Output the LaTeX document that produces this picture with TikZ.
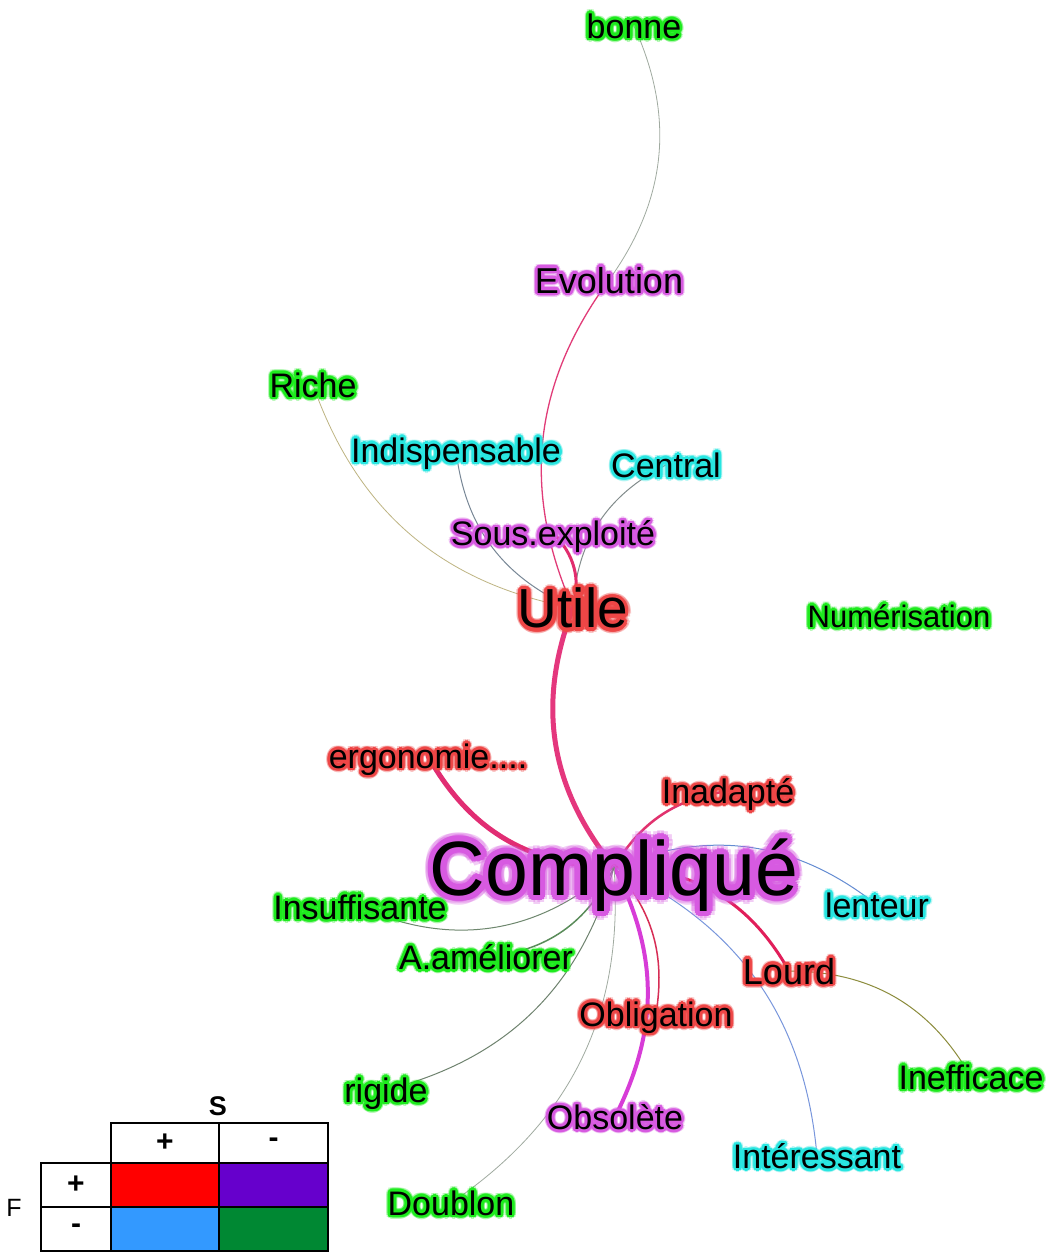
\documentclass[tikz,border=0pt]{standalone}
\usepackage{fontspec}
\setmainfont{Liberation Sans}
\usetikzlibrary{calc}
\pgfdeclarelayer{bg}
\pgfsetlayers{bg,main}
\definecolor{gG}{RGB}{30,235,30}
\definecolor{gC}{RGB}{40,230,225}
\definecolor{gM}{RGB}{215,90,225}
\definecolor{gR}{RGB}{238,70,70}
\definecolor{lRed}{RGB}{255,0,0}
\definecolor{lPur}{RGB}{102,0,204}
\definecolor{lBlu}{RGB}{51,153,255}
\definecolor{lGrn}{RGB}{0,136,51}
\tikzset{
  lbl/.style={inner sep=0pt, text depth=0pt, anchor=center},
  edg/.style={line width=#1, line cap=round},
}
% #1 name, #2 position, #3 size, #4 glow colour, #5 glow radius, #6 text
\newcommand\glowlabel[6]{%
  \foreach \ang in {0,30,...,330}{
    \node[lbl, font=\fontsize{#3}{#3}\selectfont, text=#4, opacity=0.3] at ($(#2)+(\ang:#5*1.6)$) {#6};
  }
  \foreach \ang in {0,22.5,...,337.5}{
    \node[lbl, font=\fontsize{#3}{#3}\selectfont, text=#4] at ($(#2)+(\ang:#5)$) {#6};
  }
  \node[lbl, font=\fontsize{#3}{#3}\selectfont, text=black] (#1) at (#2) {#6};
}
\begin{document}
\begin{tikzpicture}[x=1pt,y=-1pt]
\begin{pgfonlayer}{bg}
\fill[white] (0,0) rectangle (1051,1253);
\end{pgfonlayer}
\useasboundingbox (0,0) rectangle (1051,1253);
% labels
\glowlabel{bonne}{634,26}{34}{gG}{2.5}{bonne}
\glowlabel{evol}{609,280}{36}{gM}{2.5}{Evolution}
\glowlabel{riche}{313,385}{34}{gG}{2.5}{Riche}
\glowlabel{indisp}{456,450}{34}{gC}{2.5}{Indispensable}
\glowlabel{central}{666,465}{34}{gC}{2.5}{Central}
\glowlabel{sous}{553,533}{34}{gM}{2.5}{Sous.exploité}
\glowlabel{utile}{573,608}{55}{gR}{3.5}{Utile}
\glowlabel{numer}{899,616}{31}{gG}{2.5}{Numérisation}
\glowlabel{ergo}{428,756}{34}{gR}{2.5}{ergonomie....}
\glowlabel{inad}{728,791}{34}{gR}{2.5}{Inadapté}
\glowlabel{compl}{614,867}{77}{gM}{5.5}{Compliqué}
\glowlabel{lenteur}{877,905}{34}{gC}{2.5}{lenteur}
\glowlabel{insuff}{360,907}{34}{gG}{2.5}{Insuffisante}
\glowlabel{amel}{486,957}{34}{gG}{2.5}{A.améliorer}
\glowlabel{lourd}{789,971}{36}{gR}{2.5}{Lourd}
\glowlabel{oblig}{656,1014}{34}{gR}{2.5}{Obligation}
\glowlabel{ineff}{971,1077}{34}{gG}{2.5}{Inefficace}
\glowlabel{rigide}{386,1090}{34}{gG}{2.5}{rigide}
\glowlabel{obso}{615,1117}{34}{gM}{2.5}{Obsolète}
\glowlabel{interes}{817,1156}{34}{gC}{2.5}{Intéressant}
\glowlabel{doublon}{451,1203}{34}{gG}{2.5}{Doublon}
% edges
\begin{pgfonlayer}{bg}
\draw[edg=0.8, color={rgb,255:red,160;green,170;blue,160}] (evol.center) to[bend right=30] (bonne.center);
\draw[edg=1.3, color={rgb,255:red,225;green,60;blue,120}] (evol.center) to[bend right=30] (utile.center);
\draw[edg=0.8, color={rgb,255:red,190;green,180;blue,130}] (riche.center) to[bend right=30] (utile.center);
\draw[edg=1.0, color={rgb,255:red,120;green,135;blue,150}] (indisp.center) to[bend right=30] (utile.center);
\draw[edg=1.0, color={rgb,255:red,130;green,140;blue,140}] (central.center) to[bend right=30] (utile.center);
\draw[edg=3.0, color={rgb,255:red,225;green,45;blue,110}] (utile.center) to[bend right=30] (sous.center);
\draw[edg=5.0, color={rgb,255:red,228;green,55;blue,125}] (utile.center) to[bend right=30] (compl.center);
\draw[edg=5.0, color={rgb,255:red,225;green,45;blue,115}] (ergo.center) to[bend right=30] (compl.center);
\draw[edg=2.5, color={rgb,255:red,225;green,50;blue,110}] (inad.center) to[bend right=25] (compl.center);
\draw[edg=1.0, color={rgb,255:red,100;green,140;blue,210}] (lenteur.center) to[bend right=30] (compl.center);
\draw[edg=3.0, color={rgb,255:red,225;green,30;blue,90}] (lourd.center) to[bend right=30] (compl.center);
\draw[edg=1.0, color={rgb,255:red,140;green,140;blue,60}] (ineff.center) to[bend right=30] (lourd.center);
\draw[edg=1.0, color={rgb,255:red,120;green,150;blue,220}] (interes.center) to[bend right=30] (compl.center);
\draw[edg=1.5, color={rgb,255:red,215;green,45;blue,85}] (oblig.center) to[bend right=25] (compl.center);
\draw[edg=4.0, color={rgb,255:red,215;green,60;blue,215}] (obso.center) to[bend right=27] (compl.center);
\draw[edg=0.8, color={rgb,255:red,160;green,170;blue,160}] (doublon.center) to[bend right=30] (compl.center);
\draw[edg=1.0, color={rgb,255:red,110;green,130;blue,110}] (rigide.center) to[bend right=30] (compl.center);
\draw[edg=1.5, color={rgb,255:red,90;green,140;blue,90}] (amel.center) to[bend right=30] (compl.center);
\draw[edg=1.0, color={rgb,255:red,110;green,135;blue,110}] (insuff.center) to[bend right=33] (compl.center);
\end{pgfonlayer}
% legend
\begin{scope}[line width=1.3pt]
\node[font=\bfseries\fontsize{27}{27}\selectfont] (S) at (218,1106) {S};
\node[font=\fontsize{25}{25}\selectfont] (F) at (14,1208) {F};
\node[draw, minimum width=108, minimum height=40, inner sep=0pt, font=\bfseries\fontsize{30}{30}\selectfont] (hp) at (165,1143) {+};
\node[draw, minimum width=109, minimum height=40, inner sep=0pt, font=\bfseries\fontsize{30}{30}\selectfont] (hm) at (273.5,1143) {-};
\node[draw, minimum width=70, minimum height=44, inner sep=0pt, font=\bfseries\fontsize{30}{30}\selectfont] (vp) at (76,1185) {+};
\node[draw, minimum width=70, minimum height=44, inner sep=0pt, font=\bfseries\fontsize{30}{30}\selectfont] (vm) at (76,1229) {-};
\node[draw, fill=lRed, minimum width=108, minimum height=44, inner sep=0pt] (c11) at (165,1185) {};
\node[draw, fill=lPur, minimum width=109, minimum height=44, inner sep=0pt] (c12) at (273.5,1185) {};
\node[draw, fill=lBlu, minimum width=108, minimum height=44, inner sep=0pt] (c21) at (165,1229) {};
\node[draw, fill=lGrn, minimum width=109, minimum height=44, inner sep=0pt] (c22) at (273.5,1229) {};
\end{scope}
\end{tikzpicture}
\end{document}
